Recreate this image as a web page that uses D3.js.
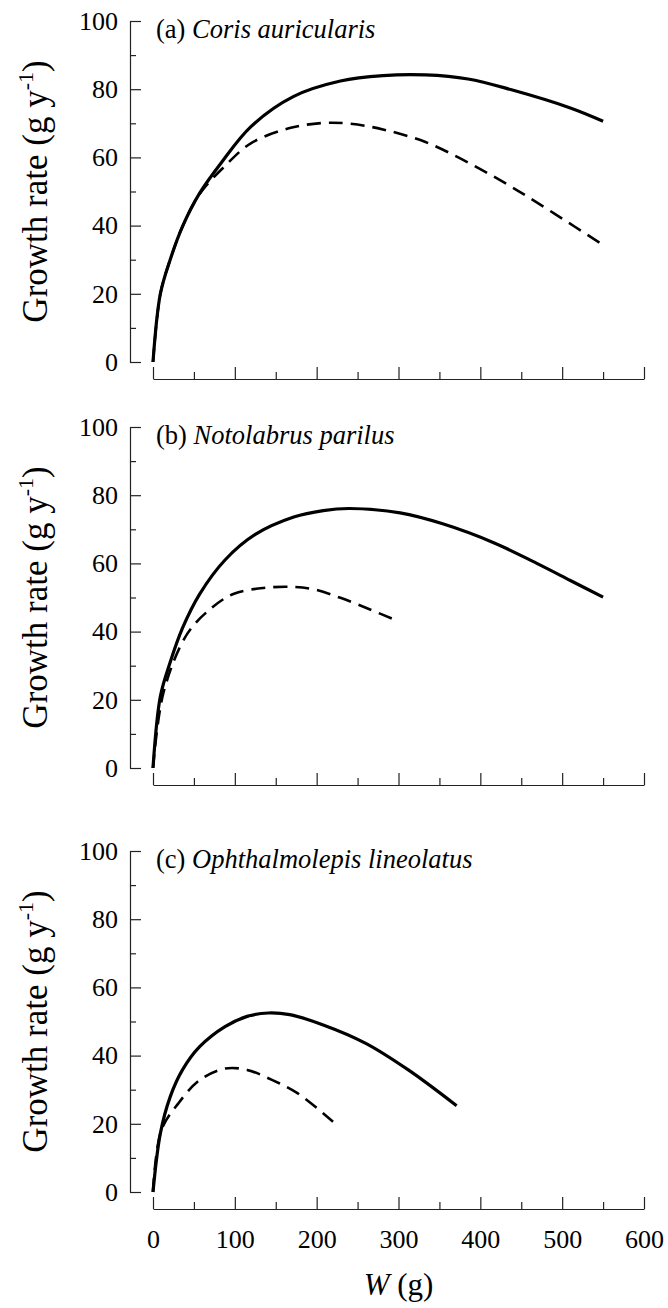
<!DOCTYPE html>
<html>
<head>
<meta charset="utf-8">
<script src="https://cdn.jsdelivr.net/npm/d3@7"></script>
<style>
  body { margin: 0; background: #fff; }
</style>
</head>
<body>
<div id="chart"></div>
<script>
// Chart values
var panelTags = ["(a)", "(b)", "(c)"];
var speciesNames = ["Coris auricularis", "Notolabrus parilus", "Ophthalmolepis lineolatus"];

var xTicks = [0, 100, 200, 300, 400, 500, 600];
var xMinorTicks = [50, 150, 250, 350, 450, 550];
var yTicks = [0, 20, 40, 60, 80, 100];
var yMinorTicks = [10, 30, 50, 70, 90];

// (a) Coris auricularis
var solidW_a = [0, 9, 21, 36, 57, 83, 120, 172, 229, 281, 333, 385, 437, 510, 550];
var solidG_a = [0, 20, 30, 39.7, 49.5, 58.3, 69.1, 77.9, 82.4, 84.0, 84.2, 83.0, 79.9, 74.5, 70.6];
var dashW_a = [0, 9, 21, 36, 57, 88, 120, 167, 208, 240, 281, 333, 385, 437, 490, 550];
var dashG_a = [0, 20, 30, 39.7, 49.3, 57.5, 64.2, 68.6, 70.1, 69.9, 68.2, 64.5, 58.5, 51.5, 43.6, 34.3];

// (b) Notolabrus parilus
var solidW_b = [0, 9, 21, 36, 57, 88, 125, 172, 208, 240, 302, 354, 417, 469, 510, 550];
var solidG_b = [0, 21, 31, 41, 51, 61, 68.5, 73.6, 75.5, 76.1, 74.8, 71.6, 66, 60, 55, 50.1];
var dashW_b = [0, 13, 42, 73, 99, 135, 172, 198, 229, 266, 300];
var dashG_b = [0, 22.3, 39.4, 47.2, 51.1, 52.8, 53.1, 52.3, 49.9, 46.4, 43.0];

// (c) Ophthalmolepis lineolatus
var solidW_c = [0, 9, 21, 36, 57, 88, 115, 141, 167, 208, 260, 312, 371];
var solidG_c = [0, 17.2, 27.9, 35.8, 42.6, 48.5, 51.5, 52.5, 52.0, 49.0, 43.6, 35.8, 25.3];
var dashW_c = [0, 10, 31, 57, 88, 115, 146, 177, 220];
var dashG_c = [0, 18, 26, 32.8, 36.2, 35.8, 32.8, 28.9, 20.6];

var solidW = [solidW_a, solidW_b, solidW_c];
var solidG = [solidG_a, solidG_b, solidG_c];
var dashW = [dashW_a, dashW_b, dashW_c];
var dashG = [dashG_a, dashG_b, dashG_c];

var serif = "'Times New Roman', 'Liberation Serif', Times, serif";

// Layout
var svgWidth = 668;
var svgHeight = 1308;
var yAxisX = 130;          // y-axis sits left of x = 0
var panelTops = [21, 427, 851];
var panelHeight = 341;
var xAxisGap = 17;         // x-axis drawn a bit below y = 0

var svg = d3.select("#chart")
    .append("svg")
    .attr("width", svgWidth)
    .attr("height", svgHeight)
    .attr("font-family", serif);

var xScale = d3.scaleLinear()
    .domain([0, 600])
    .range([153, 644]);

function zip(ws, gs) {
    return ws.map(function(w, i) { return [w, gs[i]]; });
}

panelTops.forEach(function(top, p) {
    var yScale = d3.scaleLinear()
        .domain([0, 100])
        .range([top + panelHeight, top]);

    var g = svg.append("g");

    // y axis: major ticks with labels, minor ticks without
    g.append("g")
        .attr("transform", `translate(${yAxisX},0)`)
        .call(d3.axisLeft(yScale).tickValues(yTicks).tickSize(-11).tickSizeOuter(0).tickPadding(12));
    g.append("g")
        .attr("transform", `translate(${yAxisX},0)`)
        .call(d3.axisLeft(yScale).tickValues(yMinorTicks).tickSize(-6).tickFormat(""))
        .select(".domain").remove();

    // x axis
    var xAxisY = top + panelHeight + xAxisGap;
    var xAxis = g.append("g")
        .attr("transform", `translate(0,${xAxisY})`)
        .call(d3.axisBottom(xScale).tickValues(xTicks).tickSize(-12).tickSizeOuter(0).tickPadding(21));
    g.append("g")
        .attr("transform", `translate(0,${xAxisY})`)
        .call(d3.axisBottom(xScale).tickValues(xMinorTicks).tickSize(-7).tickFormat(""))
        .select(".domain").remove();

    if (p < 2) xAxis.selectAll(".tick text").remove();

    g.selectAll("g").attr("font-family", serif);
    g.selectAll(".tick text")
        .attr("font-size", 26)
        .attr("fill", "#000");
    g.selectAll(".domain, .tick line")
        .attr("stroke", "#222")
        .attr("stroke-width", 1.2);

    // y-axis title
    var yt = g.append("text")
        .attr("transform", `translate(47,${top + panelHeight / 2}) rotate(-90)`)
        .attr("text-anchor", "middle")
        .attr("font-size", 35);
    yt.append("tspan").text("Growth rate (g y");
    yt.append("tspan").attr("dy", -14).attr("font-size", 22).text("-1");
    yt.append("tspan").attr("dy", 14).text(")");

    // panel title
    var t = g.append("text")
        .attr("x", 156)
        .attr("y", top + 17)
        .attr("font-size", 26.5);
    t.append("tspan").text(panelTags[p] + " ");
    t.append("tspan").attr("font-style", "italic").text(speciesNames[p]);

    var line = d3.line()
        .x(function(d) { return xScale(d[0]); })
        .y(function(d) { return yScale(d[1]); })
        .curve(d3.curveCatmullRom.alpha(0.5));

    g.append("path")
        .datum(zip(dashW[p], dashG[p]))
        .attr("fill", "none")
        .attr("stroke", "#000")
        .attr("stroke-width", 2.6)
        .attr("stroke-dasharray", "14,8")
        .attr("d", line);

    g.append("path")
        .datum(zip(solidW[p], solidG[p]))
        .attr("fill", "none")
        .attr("stroke", "#000")
        .attr("stroke-width", 3.2)
        .attr("d", line);
});

// x-axis title
var xt = svg.append("text")
    .attr("x", (xScale(0) + xScale(600)) / 2)
    .attr("y", 1295)
    .attr("text-anchor", "middle")
    .attr("font-size", 31);
xt.append("tspan").attr("font-style", "italic").text("W");
xt.append("tspan").text(" (g)");
</script>
</body>
</html>
